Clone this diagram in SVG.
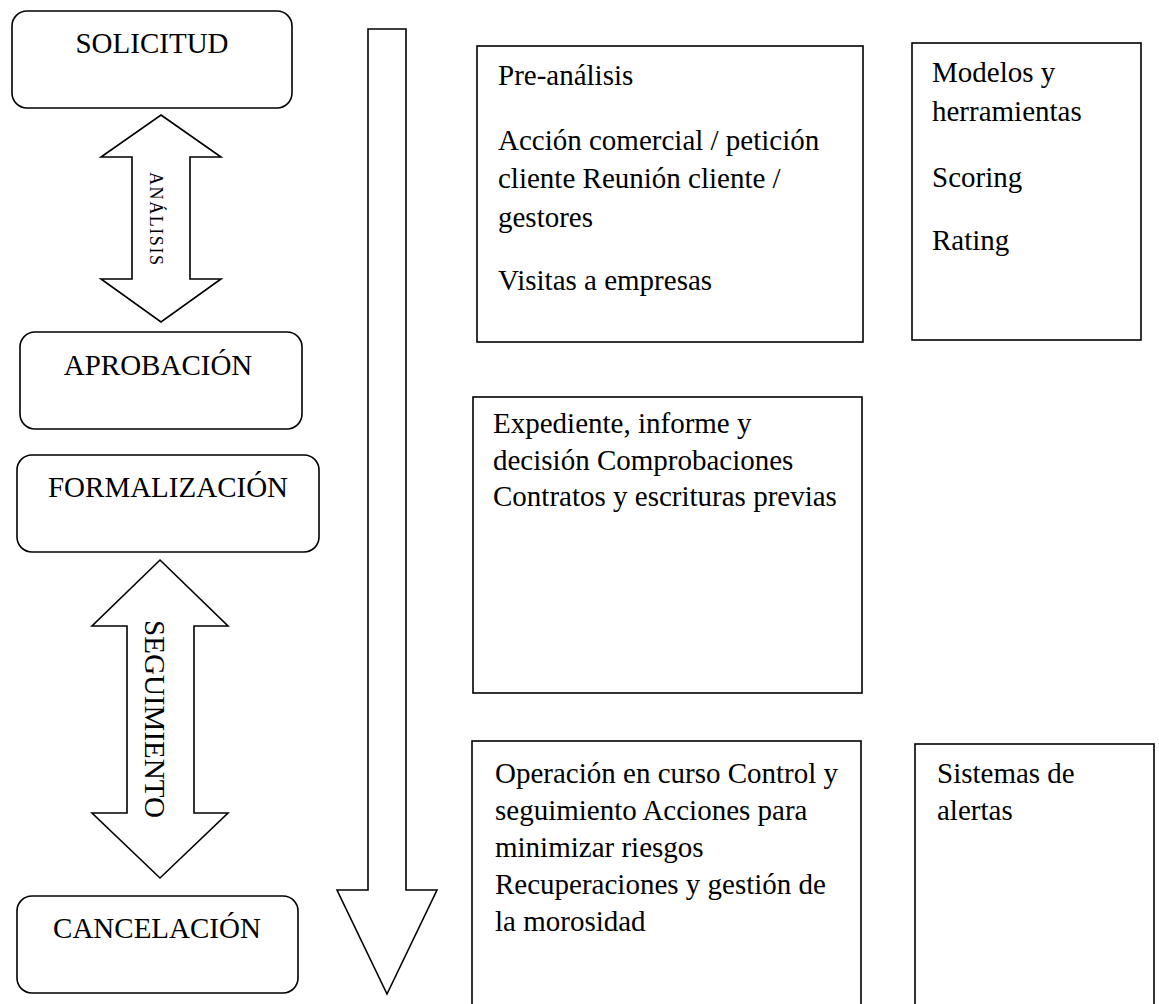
<svg xmlns="http://www.w3.org/2000/svg" width="1159" height="1004" viewBox="0 0 1159 1004">
<style>
  .bg { fill: #ffffff; }
  .rbox { fill: #ffffff; stroke: #000000; stroke-width: 1.6; }
  .box { fill: #ffffff; stroke: #000000; stroke-width: 1.6; }
  .arrow { fill: #ffffff; stroke: #000000; stroke-width: 1.6; stroke-linejoin: miter; }
  .t { font-family: "Liberation Serif", "Times New Roman", serif; font-size: 29px; fill: #000000; }
  .c { text-anchor: middle; }
  .small { font-family: "Liberation Serif", "Times New Roman", serif; font-size: 18px; fill: #000000; }
</style>
<rect class="bg" x="0" y="0" width="1159" height="1004"/>

<g id="connectors">
  <g id="arrow-analisis">
    <polygon class="arrow" points="161,115 221,157 190,157 190,279 221,279 161,322 101,279 132,279 132,157 101,157"/>
    <text class="small" transform="translate(150,172) rotate(90)" textLength="93" lengthAdjust="spacing">ANÁLISIS</text>
  </g>
  <g id="arrow-seguimiento">
    <polygon class="arrow" points="160,560 228,626 194,626 194,813 228,813 160,878 92,813 127,813 127,626 92,626"/>
    <text class="t" transform="translate(145,620) rotate(90)" textLength="198" lengthAdjust="spacingAndGlyphs">SEGUIMIENTO</text>
  </g>
  <g id="arrow-main">
    <polygon class="arrow" points="368,29 406,29 406,890 437,890 387,994 337,890 368,890"/>
  </g>
</g>

<g id="node-solicitud">
  <rect class="rbox" x="12" y="11" width="280" height="97" rx="15" ry="15"/>
  <text class="t c" x="152" y="53">SOLICITUD</text>
</g>
<g id="node-aprobacion">
  <rect class="rbox" x="20" y="332" width="282" height="97" rx="15" ry="15"/>
  <text class="t c" x="158" y="375">APROBACIÓN</text>
</g>
<g id="node-formalizacion">
  <rect class="rbox" x="17" y="455" width="302" height="97" rx="15" ry="15"/>
  <text class="t c" x="168" y="497">FORMALIZACIÓN</text>
</g>
<g id="node-cancelacion">
  <rect class="rbox" x="17" y="896" width="281" height="97" rx="15" ry="15"/>
  <text class="t c" x="157" y="938">CANCELACIÓN</text>
</g>

<g id="node-preanalisis">
  <rect class="box" x="477" y="46" width="386" height="296"/>
  <text class="t" x="498" y="85">Pre-análisis</text>
  <text class="t" x="498" y="150">Acción comercial / petición</text>
  <text class="t" x="498" y="188">cliente Reunión cliente /</text>
  <text class="t" x="498" y="227">gestores</text>
  <text class="t" x="498" y="290">Visitas a empresas</text>
</g>

<g id="node-modelos">
  <rect class="box" x="912" y="43" width="229" height="297"/>
  <text class="t" x="932" y="82">Modelos y</text>
  <text class="t" x="932" y="121">herramientas</text>
  <text class="t" x="932" y="187">Scoring</text>
  <text class="t" x="932" y="250">Rating</text>
</g>

<g id="node-expediente">
  <rect class="box" x="473" y="397" width="389" height="296"/>
  <text class="t" x="493" y="433">Expediente, informe y</text>
  <text class="t" x="493" y="470">decisión Comprobaciones</text>
  <text class="t" x="493" y="506">Contratos y escrituras previas</text>
</g>

<g id="node-operacion">
  <rect class="box" x="472" y="741" width="389" height="290"/>
  <text class="t" x="495" y="783">Operación en curso Control y</text>
  <text class="t" x="495" y="820">seguimiento Acciones para</text>
  <text class="t" x="495" y="857">minimizar riesgos</text>
  <text class="t" x="495" y="894">Recuperaciones y gestión de</text>
  <text class="t" x="495" y="931">la morosidad</text>
</g>

<g id="node-alertas">
  <rect class="box" x="915" y="744" width="239" height="290"/>
  <text class="t" x="937" y="783">Sistemas de</text>
  <text class="t" x="937" y="820">alertas</text>
</g>
</svg>
